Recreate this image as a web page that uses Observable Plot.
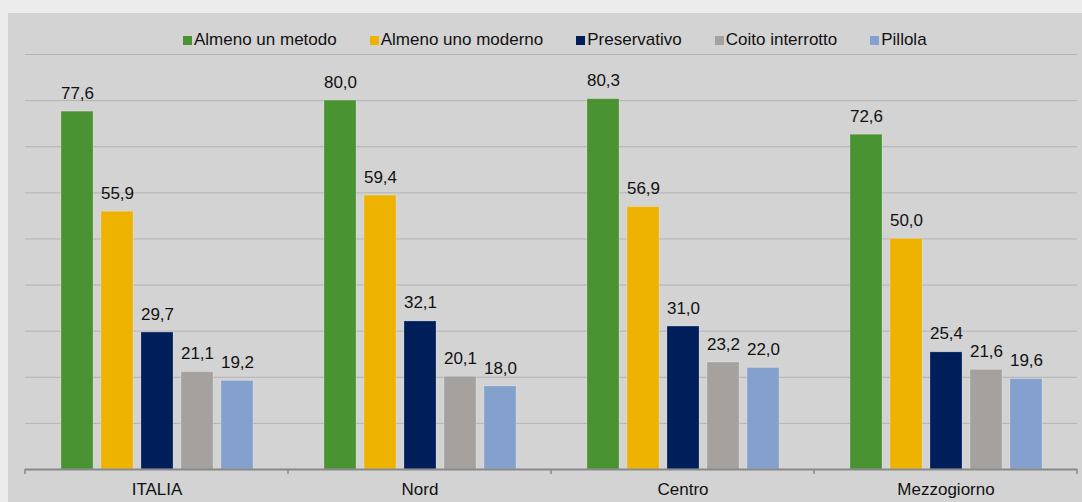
<!DOCTYPE html>
<html><head><meta charset="utf-8">
<script src="https://cdn.jsdelivr.net/npm/d3@7"></script>
<script src="https://cdn.jsdelivr.net/npm/@observablehq/plot@0.6"></script>
<style>
body{margin:0;background:#ececec;font-family:"Liberation Sans",Arial,sans-serif;}
#wrap{position:absolute;left:8px;top:13px;width:1074px;height:489px;background:#d3d3d3;overflow:hidden;}
#legend{display:flex;align-items:center;height:36px;box-sizing:border-box;padding-top:18px;padding-left:175px;font-size:17px;color:#111;}
#legend .item{display:flex;align-items:center;margin-right:33px;white-space:nowrap;line-height:18px;}
#legend .sw{width:9px;height:9px;margin-right:2px;display:inline-block;}
svg{display:block;}
</style>
</head><body>
<div id="wrap"><div id="legend"></div><div id="chart"></div></div>
<script>
const regions = ["ITALIA", "Nord", "Centro", "Mezzogiorno"];
const series = ["Almeno un metodo", "Almeno uno moderno", "Preservativo", "Coito interrotto", "Pillola"];
const colors = ["#4a9332", "#eeb300", "#001e5a", "#a5a19f", "#84a0cc"];
const almenoUnMetodo = [77.6, 80.0, 80.3, 72.6];
const almenoUnoModerno = [55.9, 59.4, 56.9, 50.0];
const preservativo = [29.7, 32.1, 31.0, 25.4];
const coitoInterrotto = [21.1, 20.1, 23.2, 21.6];
const pillola = [19.2, 18.0, 22.0, 19.6];
const yTicks = [10, 20, 30, 40, 50, 60, 70, 80, 90];

const seriesValues = [almenoUnMetodo, almenoUnoModerno, preservativo, coitoInterrotto, pillola];
const data = [];
regions.forEach((r, i) => series.forEach((s, j) => data.push({region: r, series: s, value: seriesValues[j][i]})));

const legend = document.getElementById("legend");
series.forEach((s, j) => {
  const it = document.createElement("div"); it.className = "item";
  const sw = document.createElement("span"); sw.className = "sw"; sw.style.background = colors[j];
  const tx = document.createElement("span"); tx.textContent = s;
  it.appendChild(sw); it.appendChild(tx); legend.appendChild(it);
});

const chart = Plot.plot({
  width: 1074, height: 453,
  marginTop: 5, marginBottom: 33, marginLeft: 17, marginRight: 5,
  style: {background: "transparent", fontSize: "17px", fontFamily: "'Liberation Sans', Arial, sans-serif", color: "#111"},
  facet: {data, x: "region", marginTop: 0, marginBottom: 0, marginLeft: 0, marginRight: 0},
  fx: {domain: regions, padding: 0, axis: "bottom", tickSize: 0, tickPadding: 13, label: null},
  x: {domain: series, paddingInner: 0.208, paddingOuter: 0.859, axis: null},
  y: {domain: [0, 90], axis: null},
  color: {domain: series, range: colors},
  marks: [
    Plot.ruleY(yTicks, {stroke: "#b3b3b3", strokeWidth: 1}),
    Plot.barY(data, {x: "series", y: "value", fill: "series", stroke: "#ffffff", strokeOpacity: 0.2, strokeWidth: 1}),
    Plot.text(data, {x: "series", y: "value", text: d => d.value.toFixed(1).replace(".", ","), dy: -13, lineAnchor: "bottom", fontSize: 17, fill: "#111"}),
    Plot.ruleY([0], {stroke: "#898989", strokeWidth: 2})
  ]
});
document.getElementById("chart").appendChild(chart);

// boundary tick marks on the category axis, positioned from Plot's fx and y scales
try {
  const fx = chart.scale("fx"), y = chart.scale("y");
  const edges = regions.map(r => fx.apply(r));
  edges.push(fx.apply(regions[regions.length - 1]) + fx.bandwidth);
  const y0 = y.apply(0);
  const g = d3.select(chart).append("g").attr("stroke", "#898989").attr("stroke-width", 1.5);
  edges.forEach(e => g.append("line").attr("x1", e).attr("x2", e).attr("y1", y0).attr("y2", y0 + 5));
} catch (e) {}
</script>
</body></html>
